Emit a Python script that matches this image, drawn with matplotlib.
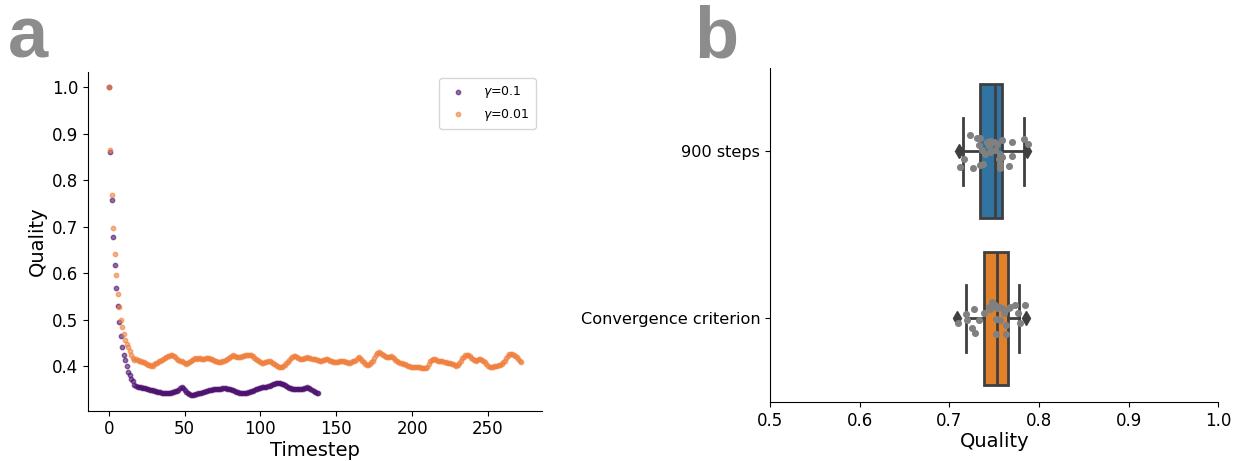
import numpy as np
import matplotlib
matplotlib.use('Agg')
from matplotlib import pyplot as plt

# panel a: quality per timestep
quality_g01 = [
    1.000, 0.861, 0.758, 0.678, 0.618, 0.569, 0.530, 0.494, 0.464, 0.440,
    0.423, 0.414, 0.401, 0.388, 0.380, 0.373, 0.367, 0.360, 0.357, 0.356,
    0.355, 0.354, 0.353, 0.352, 0.352, 0.351, 0.350, 0.349, 0.349, 0.348,
    0.347, 0.346, 0.345, 0.345, 0.344, 0.343, 0.342, 0.341, 0.341, 0.342,
    0.342, 0.343, 0.344, 0.345, 0.346, 0.347, 0.349, 0.352, 0.354, 0.352,
    0.348, 0.345, 0.342, 0.339, 0.338, 0.337, 0.338, 0.339, 0.340, 0.341,
    0.342, 0.343, 0.344, 0.345, 0.346, 0.347, 0.348, 0.349, 0.349, 0.350,
    0.350, 0.350, 0.350, 0.351, 0.351, 0.352, 0.352, 0.352, 0.351, 0.351,
    0.350, 0.349, 0.348, 0.346, 0.345, 0.344, 0.343, 0.343, 0.342, 0.342,
    0.343, 0.343, 0.344, 0.345, 0.346, 0.347, 0.348, 0.350, 0.351, 0.352,
    0.353, 0.354, 0.355, 0.355, 0.356, 0.357, 0.358, 0.359, 0.361, 0.362,
    0.363, 0.364, 0.364, 0.363, 0.362, 0.361, 0.359, 0.357, 0.354, 0.353,
    0.352, 0.351, 0.351, 0.350, 0.351, 0.351, 0.351, 0.351, 0.351, 0.352,
    0.353, 0.354, 0.353, 0.351, 0.349, 0.347, 0.345, 0.343, 0.342,
]

quality_g001 = [
    1.000, 0.865, 0.768, 0.697, 0.642, 0.595, 0.556, 0.527, 0.500, 0.484,
    0.468, 0.457, 0.448, 0.440, 0.432, 0.424, 0.418, 0.414, 0.416, 0.414,
    0.412, 0.411, 0.409, 0.408, 0.406, 0.404, 0.403, 0.402, 0.401, 0.401,
    0.404, 0.406, 0.407, 0.410, 0.412, 0.414, 0.416, 0.418, 0.419, 0.421,
    0.422, 0.423, 0.423, 0.421, 0.419, 0.416, 0.414, 0.412, 0.410, 0.408,
    0.406, 0.405, 0.406, 0.408, 0.410, 0.413, 0.416, 0.417, 0.416, 0.417,
    0.417, 0.416, 0.415, 0.416, 0.417, 0.418, 0.417, 0.416, 0.415, 0.414,
    0.412, 0.410, 0.408, 0.408, 0.409, 0.410, 0.411, 0.413, 0.415, 0.417,
    0.419, 0.421, 0.423, 0.421, 0.420, 0.419, 0.419, 0.420, 0.421, 0.422,
    0.423, 0.424, 0.424, 0.423, 0.423, 0.421, 0.418, 0.416, 0.413, 0.410,
    0.408, 0.407, 0.407, 0.408, 0.409, 0.410, 0.410, 0.408, 0.406, 0.404,
    0.403, 0.400, 0.398, 0.398, 0.399, 0.400, 0.403, 0.406, 0.409, 0.413,
    0.417, 0.419, 0.421, 0.421, 0.419, 0.417, 0.416, 0.416, 0.416, 0.417,
    0.418, 0.419, 0.418, 0.417, 0.416, 0.415, 0.415, 0.414, 0.413, 0.412,
    0.412, 0.413, 0.414, 0.416, 0.415, 0.413, 0.411, 0.410, 0.409, 0.408,
    0.408, 0.409, 0.410, 0.410, 0.410, 0.410, 0.409, 0.408, 0.407, 0.407,
    0.408, 0.410, 0.412, 0.414, 0.417, 0.419, 0.416, 0.412, 0.408, 0.404,
    0.403, 0.403, 0.405, 0.408, 0.412, 0.417, 0.423, 0.428, 0.430, 0.429,
    0.427, 0.424, 0.421, 0.420, 0.419, 0.420, 0.421, 0.419, 0.417, 0.414,
    0.411, 0.408, 0.407, 0.406, 0.405, 0.404, 0.402, 0.401, 0.400, 0.399,
    0.398, 0.398, 0.398, 0.398, 0.397, 0.397, 0.396, 0.395, 0.395, 0.396,
    0.399, 0.404, 0.410, 0.414, 0.416, 0.416, 0.414, 0.412, 0.411, 0.410,
    0.410, 0.409, 0.408, 0.407, 0.406, 0.406, 0.405, 0.404, 0.402, 0.401,
    0.403, 0.407, 0.412, 0.417, 0.420, 0.423, 0.424, 0.423, 0.421, 0.418,
    0.415, 0.413, 0.412, 0.413, 0.415, 0.416, 0.414, 0.412, 0.409, 0.405,
    0.401, 0.398, 0.398, 0.399, 0.400, 0.400, 0.401, 0.402, 0.403, 0.405,
    0.408, 0.412, 0.417, 0.422, 0.425, 0.426, 0.425, 0.424, 0.422, 0.419,
    0.416, 0.412, 0.408,
]

series_labels = [r'$\gamma$=0.1', r'$\gamma$=0.01']

# panel b: box summary per condition
conditions = ['900 steps', 'Convergence criterion']
box_q1 = [0.734, 0.739]
box_med = [0.751, 0.753]
box_q3 = [0.759, 0.765]
whisk_lo = [0.715, 0.719]
whisk_hi = [0.783, 0.778]
fliers = [[0.711, 0.787], [0.709, 0.785]]

# individual runs (quality, jitter offset within the category)
runs_900 = [0.7232, 0.7307, 0.7344, 0.7333, 0.7418, 0.7455, 0.7493, 0.7530,
            0.7586, 0.7697, 0.7835, 0.7872, 0.7362, 0.7455, 0.7511, 0.7567,
            0.7586, 0.7548, 0.7697, 0.7158, 0.7113, 0.7262, 0.7344, 0.7374,
            0.7560, 0.7567, 0.7664, 0.7437, 0.7400]
jit_900 = [-0.099, -0.079, -0.079, -0.036, -0.056, -0.062, -0.056, -0.046,
           -0.069, -0.056, -0.075, -0.046, -0.006, 0.004, -0.006, 0.014,
           0.034, 0.044, 0.030, 0.044, 0.093, 0.099, 0.083, 0.077,
           0.077, 0.097, 0.087, -0.030, 0.014]
runs_conv = [0.7269, 0.7188, 0.7091, 0.7195, 0.7333, 0.7251, 0.7288, 0.7381,
             0.7437, 0.7474, 0.7511, 0.7548, 0.7586, 0.7623, 0.7660, 0.7679,
             0.7734, 0.7846, 0.7761, 0.7783, 0.7518, 0.7567, 0.7634, 0.7522,
             0.7634, 0.7455, 0.7604, 0.7530]
jit_conv = [-0.058, -0.024, 0.030, 0.010, 0.010, 0.056, 0.089, -0.034,
            -0.070, -0.099, -0.079, -0.070, -0.060, -0.050, -0.060, -0.070,
            -0.083, -0.083, -0.034, 0.026, 0.006, 0.010, 0.042, 0.091,
            0.091, -0.054, -0.034, -0.064]

fig = plt.figure(figsize=(12.42, 4.61), dpi=100)

# ---- panel a
ax = fig.add_axes([0.0709, 0.109, 0.3655, 0.735])
purple = '#4b0f6e'
orange = '#f07f3c'
ax.scatter(np.arange(len(quality_g01)), quality_g01, s=10, color=purple,
           alpha=0.6, linewidths=1, label=series_labels[0])
ax.scatter(np.arange(len(quality_g001)), quality_g001, s=10, color=orange,
           alpha=0.6, linewidths=1, label=series_labels[1])
ax.set_xlabel('Timestep', fontsize=14, labelpad=2)
ax.set_ylabel('Quality', fontsize=14)
ax.tick_params(labelsize=12)
ax.set_xticks([0, 50, 100, 150, 200, 250])
ax.set_yticks([0.4, 0.5, 0.6, 0.7, 0.8, 0.9, 1.0])
ax.spines['top'].set_visible(False)
ax.spines['right'].set_visible(False)
ax.legend(loc='upper right', fontsize=9, borderpad=0.5, handletextpad=1.0,
          labelspacing=0.5)

# ---- panel b
bx = fig.add_axes([0.620, 0.128, 0.361, 0.725])
stats = []
for i in range(len(conditions)):
    stats.append(dict(q1=box_q1[i], med=box_med[i], q3=box_q3[i],
                      whislo=whisk_lo[i], whishi=whisk_hi[i],
                      fliers=fliers[i], label=conditions[i]))
line_c = '#3f3f3f'
res = bx.bxp(stats, positions=[0, 1], widths=0.8, vert=False,
             patch_artist=True, showfliers=True,
             boxprops=dict(edgecolor=line_c, linewidth=2),
             medianprops=dict(color=line_c, linewidth=2),
             whiskerprops=dict(color=line_c, linewidth=2),
             capprops=dict(color=line_c, linewidth=2),
             flierprops=dict(marker='d', markerfacecolor=line_c,
                             markeredgecolor=line_c, markersize=7))
for patch, c in zip(res['boxes'], ['#3274a1', '#e1812c']):
    patch.set_facecolor(c)

bx.scatter(runs_900, np.array(jit_900), s=26, color='#808080', zorder=3,
           linewidths=0)
bx.scatter(runs_conv, 1 + np.array(jit_conv), s=26, color='#808080',
           zorder=3, linewidths=0)
bx.set_ylim(1.5, -0.5)
bx.set_yticks([0, 1])
bx.set_yticklabels(conditions)
bx.set_xlim(0.5, 1.0)
bx.set_xticks([0.5, 0.6, 0.7, 0.8, 0.9, 1.0])
bx.set_xlabel('Quality', fontsize=14, labelpad=2)
bx.tick_params(axis='x', labelsize=12)
bx.tick_params(axis='y', labelsize=11.6)
bx.spines['top'].set_visible(False)
bx.spines['right'].set_visible(False)

fig.text(0.006, 0.875, 'a', fontsize=52, fontweight='bold', color='#8c8c8c',
         family='Liberation Sans')
fig.text(0.559, 0.875, 'b', fontsize=52, fontweight='bold', color='#8c8c8c',
         family='Liberation Sans')

fig.savefig('out.png', dpi=100)
